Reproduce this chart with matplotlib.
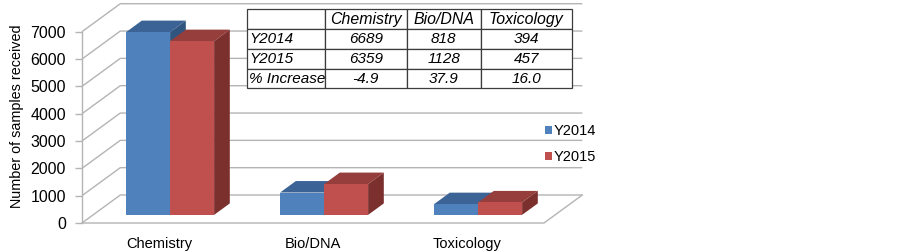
import matplotlib
matplotlib.use("Agg")
import matplotlib.pyplot as plt
from matplotlib.patches import Polygon, Rectangle, Patch

plt.rcParams['font.family'] = ['Liberation Sans', 'DejaVu Sans']

# ---- data ----
categories = ['Chemistry', 'Bio/DNA', 'Toxicology']
series_names = ['Y2014', 'Y2015']
y2014 = [6689, 818, 394]
y2015 = [6359, 1128, 457]
pct_increase = ['-4.9', '37.9', '16.0']
yticks = [0, 1000, 2000, 3000, 4000, 5000, 6000, 7000]

# ---- style ----
front_colors = ['#4F81BD', '#C0504D']
top_colors = ['#3C6395', '#963E3B']
side_colors = ['#30557F', '#7C302E']
grid_color = '#B4B4B4'
DX = 0.2487      # depth offset in category units (full depth)
DY = 1024.0      # depth offset in value units (full depth)
F0, F1 = 0.29, 0.70   # bar front/back depth fractions
BAR_W = 0.2857

fig = plt.figure(figsize=(9.03, 2.52), dpi=100)
ax = fig.add_axes([82/903, 29/252, 462/903, 191.3/252])
ax.set_xlim(0, 3)
ax.set_ylim(0, 7000)
ax.patch.set_visible(False)

ncat = len(categories)
# back wall & left wall grid lines
for v in yticks:
    ax.plot([0, DX, ncat + DX], [v, v + DY, v + DY], color=grid_color, lw=1.0,
            clip_on=False, zorder=1, solid_capstyle='butt')
# floor edges
ax.plot([0, ncat, ncat + DX], [0, 0, DY], color=grid_color, lw=1.0,
        clip_on=False, zorder=1)
# front vertical axis line
ax.plot([0, 0], [0, 7000], color=grid_color, lw=1.0, clip_on=False, zorder=1)


def bar3d(x0, w, h, fc, tc, sc):
    fx, fy = F0 * DX, F0 * DY
    bx, by = F1 * DX, F1 * DY
    top = Polygon([(x0 + fx, fy + h), (x0 + w + fx, fy + h),
                   (x0 + w + bx, by + h), (x0 + bx, by + h)],
                  closed=True, facecolor=tc, edgecolor='none', clip_on=False, zorder=3)
    side = Polygon([(x0 + w + fx, fy), (x0 + w + bx, by),
                    (x0 + w + bx, by + h), (x0 + w + fx, fy + h)],
                   closed=True, facecolor=sc, edgecolor='none', clip_on=False, zorder=3)
    front = Rectangle((x0 + fx, fy), w, h, facecolor=fc, edgecolor='none',
                      clip_on=False, zorder=3)
    ax.add_patch(top)
    ax.add_patch(side)
    ax.add_patch(front)


for i in range(ncat):
    c = i + 0.5
    bar3d(c - BAR_W, BAR_W, y2014[i], front_colors[0], top_colors[0], side_colors[0])
    bar3d(c, BAR_W, y2015[i], front_colors[1], top_colors[1], side_colors[1])

# axes styling
for s in ax.spines.values():
    s.set_visible(False)
ax.set_yticks(yticks)
ax.set_yticklabels([str(v) for v in yticks], fontsize=11.5)
ax.tick_params(axis='y', length=5, color=grid_color, pad=6.5, width=1.0)
ax.set_xticks([i + 0.5 for i in range(ncat)])
ax.set_xticklabels(categories, fontsize=10.5)
ax.tick_params(axis='x', length=0, pad=10)
ax.set_ylabel('Number of samples received', fontsize=10.4)
ax.yaxis.set_label_coords(-0.125, 0.556)

# legend
handles = [Patch(facecolor=front_colors[k], edgecolor='none') for k in range(2)]
leg = ax.legend(handles, series_names, loc='upper left',
                bbox_to_anchor=(545/903, 1 - 124/252), bbox_transform=fig.transFigure,
                frameon=False, fontsize=10.5, handlelength=0.5, handleheight=0.5,
                handletextpad=0.12, labelspacing=0.85, borderpad=0, borderaxespad=0)

# table
cell_text = [[''] + categories,
             [series_names[0]] + [str(v) for v in y2014],
             [series_names[1]] + [str(v) for v in y2015],
             ['% Increase'] + pct_increase]
col_w = [77.7, 81.7, 74.0, 91.0]
tot = sum(col_w)
tbl = ax.table(cellText=cell_text, cellLoc='center',
               colWidths=[w / tot for w in col_w],
               bbox=[0.3578, 0.7031, 0.7022, 0.414])
tbl.auto_set_font_size(False)
tbl.set_fontsize(11)
tbl.set_zorder(10)
for (r, cidx), cell in tbl.get_celld().items():
    cell.set_facecolor('white')
    cell.set_edgecolor('#3C3C3C')
    cell.set_linewidth(0.9)
    cell.get_text().set_fontstyle('italic')
    cell.get_text().set_fontsize(11.4 if r == 0 else 11)
    if cidx == 0:
        cell.get_text().set_ha('left')
        cell.PAD = 0.025

fig.savefig('out.png', dpi=100, facecolor='white')
